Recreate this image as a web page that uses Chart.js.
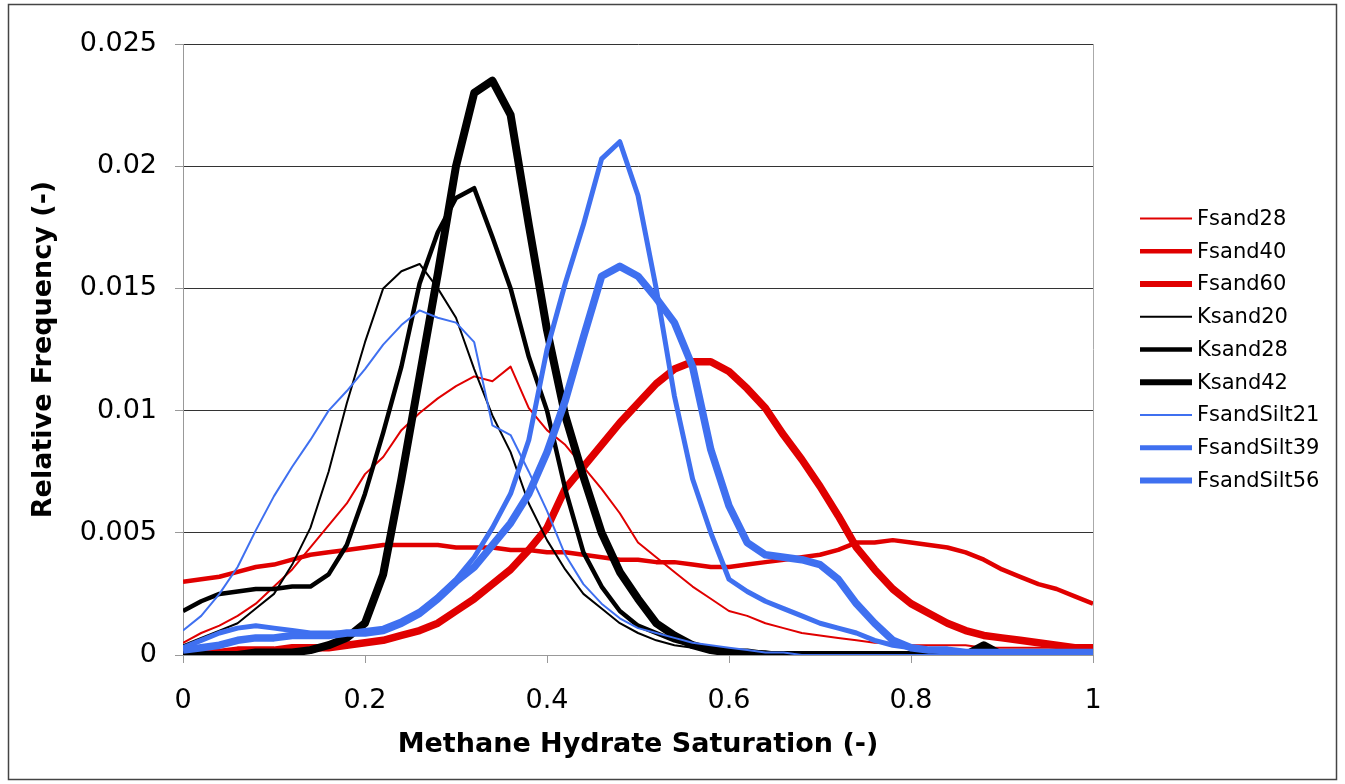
<!DOCTYPE html>
<html>
<head>
<meta charset="utf-8">
<title>Methane hydrate saturation</title>
<script src="https://cdn.jsdelivr.net/npm/chart.js@4.4.1/dist/chart.umd.min.js"></script>
<style>
  html, body { margin: 0; padding: 0; background: #fff; }
  #wrap { width: 1345px; height: 784px; }
</style>
</head>
<body>
<div id="wrap"><canvas id="hydrateChart" width="1345" height="784"></canvas></div>
<script>
// x values (hydrate saturation), shared by every series
const saturation = [
  0.00, 0.02, 0.04, 0.06, 0.08, 0.10, 0.12, 0.14, 0.16, 0.18,
  0.20, 0.22, 0.24, 0.26, 0.28, 0.30, 0.32, 0.34, 0.36, 0.38,
  0.40, 0.42, 0.44, 0.46, 0.48, 0.50, 0.52, 0.54, 0.56, 0.58,
  0.60, 0.62, 0.64, 0.66, 0.68, 0.70, 0.72, 0.74, 0.76, 0.78,
  0.80, 0.82, 0.84, 0.86, 0.88, 0.90, 0.92, 0.94, 0.96, 0.98, 1.00
];

// relative frequency
const fsand28 = [
  0.0005, 0.0009, 0.0012, 0.0016, 0.0021, 0.0028, 0.0035, 0.0044, 0.0053, 0.0062,
  0.0074, 0.0081, 0.0092, 0.0099, 0.0105, 0.0110, 0.0114, 0.0112, 0.0118, 0.0101,
  0.0092, 0.0086, 0.0077, 0.0068, 0.0058, 0.0046, 0.0040, 0.0034, 0.0028, 0.0023,
  0.0018, 0.0016, 0.0013, 0.0011, 0.0009, 0.0008, 0.0007, 0.0006, 0.0005, 0.0005,
  0.0004, 0.0004, 0.0004, 0.0004, 0.0003, 0.0003, 0.0003, 0.0003, 0.0003, 0.0003, 0.0003
];
const fsand40 = [
  0.0030, 0.0031, 0.0032, 0.0034, 0.0036, 0.0037, 0.0039, 0.0041, 0.0042, 0.0043,
  0.0044, 0.0045, 0.0045, 0.0045, 0.0045, 0.0044, 0.0044, 0.0044, 0.0043, 0.0043,
  0.0042, 0.0042, 0.0041, 0.0040, 0.0039, 0.0039, 0.0038, 0.0038, 0.0037, 0.0036,
  0.0036, 0.0037, 0.0038, 0.0039, 0.0040, 0.0041, 0.0043, 0.0046, 0.0046, 0.0047,
  0.0046, 0.0045, 0.0044, 0.0042, 0.0039, 0.0035, 0.0032, 0.0029, 0.0027, 0.0024, 0.0021
];
const fsand60 = [
  0.0001, 0.0001, 0.0001, 0.0002, 0.0002, 0.0002, 0.0003, 0.0003, 0.0003, 0.0004,
  0.0005, 0.0006, 0.0008, 0.0010, 0.0013, 0.0018, 0.0023, 0.0029, 0.0035, 0.0043,
  0.0052, 0.0068, 0.0077, 0.0086, 0.0095, 0.0103, 0.0111, 0.0117, 0.0120, 0.0120,
  0.0116, 0.0109, 0.0101, 0.0090, 0.0080, 0.0069, 0.0057, 0.0044, 0.0035, 0.0027,
  0.0021, 0.0017, 0.0013, 0.0010, 0.0008, 0.0007, 0.0006, 0.0005, 0.0004, 0.0003, 0.0003
];
const ksand20 = [
  0.0004, 0.0007, 0.0010, 0.0013, 0.0019, 0.0025, 0.0037, 0.0052, 0.0075, 0.0103,
  0.0128, 0.0150, 0.0157, 0.0160, 0.0150, 0.0138, 0.0117, 0.0098, 0.0083, 0.0062,
  0.0047, 0.0035, 0.0025, 0.0019, 0.0013, 0.0009, 0.0006, 0.0004, 0.0003, 0.0002,
  0.0001, 0.0001, 0, 0, 0, 0, 0, 0, 0, 0,
  0, 0, 0, 0, 0, 0, 0, 0, 0, 0, 0
];
const ksand28 = [
  0.0018, 0.0022, 0.0025, 0.0026, 0.0027, 0.0027, 0.0028, 0.0028, 0.0033, 0.0045,
  0.0066, 0.0091, 0.0118, 0.0152, 0.0173, 0.0187, 0.0191, 0.0171, 0.0150, 0.0122,
  0.0100, 0.0068, 0.0042, 0.0028, 0.0018, 0.0012, 0.0009, 0.0006, 0.0004, 0.0003,
  0.0002, 0.0001, 0.0001, 0, 0, 0, 0, 0, 0, 0,
  0, 0, 0, 0, 0, 0, 0, 0, 0, 0, 0
];
const ksand42 = [
  0, 0, 0, 0, 0.0001, 0.0001, 0.0001, 0.0002, 0.0004, 0.0007,
  0.0013, 0.0033, 0.0072, 0.0114, 0.0156, 0.0200, 0.0230, 0.0235, 0.0221, 0.0176,
  0.0133, 0.0098, 0.0073, 0.0050, 0.0034, 0.0023, 0.0013, 0.0008, 0.0004, 0.0002,
  0.0001, 0.0001, 0, 0, 0, 0, 0, 0, 0, 0,
  0, 0, 0, 0, 0.0004, 0, 0, 0, 0, 0, 0
];
const fsandSilt21 = [
  0.0010, 0.0016, 0.0025, 0.0036, 0.0051, 0.0065, 0.0077, 0.0088, 0.0100, 0.0108,
  0.0117, 0.0127, 0.0135, 0.0141, 0.0138, 0.0136, 0.0128, 0.0094, 0.0090, 0.0075,
  0.0059, 0.0041, 0.0029, 0.0021, 0.0015, 0.0011, 0.0009, 0.0007, 0.0005, 0.0004,
  0.0003, 0.0002, 0.0001, 0.0001, 0, 0, 0, 0, 0, 0,
  0, 0, 0, 0, 0, 0, 0, 0, 0, 0, 0
];
const fsandSilt39 = [
  0.0003, 0.0006, 0.0009, 0.0011, 0.0012, 0.0011, 0.0010, 0.0009, 0.0009, 0.0009,
  0.0010, 0.0011, 0.0014, 0.0018, 0.0024, 0.0031, 0.0040, 0.0052, 0.0066, 0.0088,
  0.0125, 0.0152, 0.0176, 0.0203, 0.0210, 0.0188, 0.0150, 0.0106, 0.0072, 0.0050,
  0.0031, 0.0026, 0.0022, 0.0019, 0.0016, 0.0013, 0.0011, 0.0009, 0.0006, 0.0004,
  0.0003, 0.0002, 0.0001, 0.0001, 0.0001, 0.0001, 0.0001, 0.0001, 0.0001, 0.0001, 0.0001
];
const fsandSilt56 = [
  0.0002, 0.0003, 0.0004, 0.0006, 0.0007, 0.0007, 0.0008, 0.0008, 0.0008, 0.0009,
  0.0009, 0.0010, 0.0013, 0.0017, 0.0023, 0.0030, 0.0036, 0.0045, 0.0054, 0.0066,
  0.0083, 0.0104, 0.0130, 0.0155, 0.0159, 0.0155, 0.0146, 0.0136, 0.0118, 0.0084,
  0.0061, 0.0046, 0.0041, 0.0040, 0.0039, 0.0037, 0.0031, 0.0021, 0.0013, 0.0006,
  0.0003, 0.0002, 0.0002, 0.0001, 0.0001, 0.0001, 0.0001, 0.0001, 0.0001, 0.0001, 0.0001
];

const yTicks = [0, 0.005, 0.01, 0.015, 0.02, 0.025];
const yTickLabels = ['0', '0.005', '0.01', '0.015', '0.02', '0.025'];
const xTicks = [0, 0.2, 0.4, 0.6, 0.8, 1];
const xTickLabels = ['0', '0.2', '0.4', '0.6', '0.8', '1'];

// look of each series (Excel style: thin / medium / thick)
const red = '#e00000', black = '#000000', blue = '#3f70f0';
const series = [
  { label: 'Fsand28',     values: fsand28,     color: red,   width: 2 },
  { label: 'Fsand40',     values: fsand40,     color: red,   width: 4.5 },
  { label: 'Fsand60',     values: fsand60,     color: red,   width: 7.5 },
  { label: 'Ksand20',     values: ksand20,     color: black, width: 2 },
  { label: 'Ksand28',     values: ksand28,     color: black, width: 4.5 },
  { label: 'Ksand42',     values: ksand42,     color: black, width: 8 },
  { label: 'FsandSilt21', values: fsandSilt21, color: blue,  width: 2 },
  { label: 'FsandSilt39', values: fsandSilt39, color: blue,  width: 5 },
  { label: 'FsandSilt56', values: fsandSilt56, color: blue,  width: 7.5 }
];

const fontFamily = '"DejaVu Sans", Verdana, sans-serif';

// white page, outer frame and the grey right edge of the plot area
const framePlugin = {
    id: 'frame',
    beforeDraw(chart) {
        const { ctx, width, height } = chart;
        ctx.save();
        ctx.fillStyle = '#fff';
        ctx.fillRect(0, 0, width, height);
        ctx.strokeStyle = '#444';
        ctx.lineWidth = 1.5;
        ctx.strokeRect(8.5, 4.5, 1328, 775);
        ctx.restore();
    },
    beforeDatasetsDraw(chart) {
        const { ctx, chartArea } = chart;
        ctx.save();
        ctx.strokeStyle = '#aaa';
        ctx.lineWidth = 1;
        ctx.beginPath();
        ctx.moveTo(chartArea.right + 0.5, chartArea.top);
        ctx.lineTo(chartArea.right + 0.5, chartArea.bottom);
        ctx.stroke();
        ctx.restore();
    }
};

// legend drawn as line samples next to the plot
const lineLegend = {
    id: 'lineLegend',
    afterDraw(chart) {
        const { ctx, chartArea } = chart;
        const sets = chart.data.datasets;
        const rowGap = 32.75;
        const midY = (chartArea.top + chartArea.bottom) / 2;
        const startY = midY - rowGap * (sets.length - 1) / 2;
        const x0 = chartArea.right + 47;
        ctx.save();
        ctx.font = '21px ' + fontFamily;
        ctx.textBaseline = 'middle';
        ctx.fillStyle = '#000';
        sets.forEach((ds, i) => {
            const y = startY + i * rowGap;
            ctx.strokeStyle = ds.borderColor;
            ctx.lineWidth = Math.min(ds.borderWidth, 6);
            ctx.beginPath();
            ctx.moveTo(x0, y);
            ctx.lineTo(x0 + 52, y);
            ctx.stroke();
            ctx.fillText(ds.label, x0 + 57, y + 1);
        });
        ctx.restore();
    }
};

const datasets = series.map((s, i) => ({
    label: s.label,
    data: saturation.map((x, k) => ({ x: x, y: s.values[k] })),
    borderColor: s.color,
    backgroundColor: s.color,
    borderWidth: s.width,
    pointRadius: 0,
    tension: 0,
    fill: false,
    borderJoinStyle: 'round',
    order: series.length - i   // later series on top, like the original
}));

new Chart(document.getElementById('hydrateChart'), {
    type: 'line',
    data: { datasets: datasets },
    options: {
        responsive: false,
        animation: false,
        devicePixelRatio: 1,
        layout: {
            padding: { left: 10, right: 252, top: 44, bottom: 10 }
        },
        plugins: {
            legend: { display: false },
            tooltip: { enabled: false }
        },
        scales: {
            x: {
                type: 'linear',
                min: 0,
                max: 1,
                afterBuildTicks: axis => { axis.ticks = xTicks.map(v => ({ value: v })); },
                afterFit: axis => { axis.height = 119; },
                ticks: {
                    color: '#000',
                    padding: 22,
                    maxRotation: 0,
                    font: { family: fontFamily, size: 27 },
                    callback: (value, index) => xTickLabels[index]
                },
                grid: {
                    drawOnChartArea: false,
                    drawTicks: true,
                    tickLength: 8,
                    tickColor: '#999'
                },
                border: { color: '#999', width: 1 },
                title: {
                    display: true,
                    text: 'Methane Hydrate Saturation (-)',
                    color: '#000',
                    font: { family: fontFamily, size: 27, weight: 'bold' },
                    padding: { top: 0, bottom: 13 }
                }
            },
            y: {
                min: 0,
                max: 0.025,
                afterBuildTicks: axis => { axis.ticks = yTicks.map(v => ({ value: v })); },
                afterFit: axis => { axis.width = 173; },
                ticks: {
                    color: '#000',
                    padding: 18,
                    font: { family: fontFamily, size: 27 },
                    callback: (value, index) => yTickLabels[index]
                },
                grid: {
                    color: c => (c.tick && c.tick.value === 0 ? '#999' : '#333'),
                    lineWidth: 1,
                    tickLength: 8,
                    tickColor: '#999'
                },
                border: { color: '#999', width: 1 },
                title: {
                    display: true,
                    text: 'Relative Frequency (-)',
                    color: '#000',
                    font: { family: fontFamily, size: 27, weight: 'bold' },
                    padding: { top: 18, bottom: 0 }
                }
            }
        }
    },
    plugins: [framePlugin, lineLegend]
});
</script>
</body>
</html>
